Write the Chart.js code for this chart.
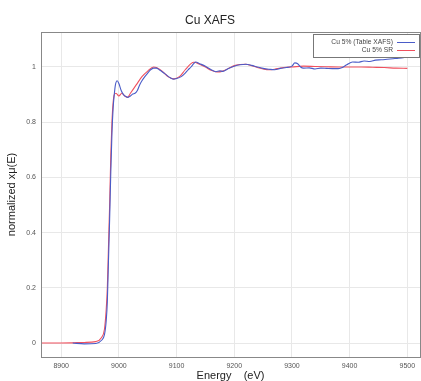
<!DOCTYPE html>
<html>
<head>
<meta charset="utf-8">
<script src="https://cdn.jsdelivr.net/npm/chart.js@4.4.0/dist/chart.umd.min.js"></script>
<style>
  body { margin: 0; background: #fff; }
  #wrap { width: 421px; height: 381px; }
</style>
</head>
<body>
<div id="wrap"><canvas id="xafsChart" width="421" height="381"></canvas></div>
<script>
// Cu 5% (Table XAFS)
const energyTable = [8920, 8940, 8960, 8970, 8975, 8978, 8980, 8982, 8984, 8986, 8988, 8990, 8992, 8994, 8997,
    9000, 9004, 9008, 9012, 9016, 9020, 9024, 9028, 9032, 9036, 9040, 9045, 9050, 9055, 9060, 9065, 9070, 9080,
    9090, 9095, 9100, 9108, 9115, 9120, 9125, 9130, 9133, 9140, 9150, 9160, 9168, 9175, 9180, 9190, 9200, 9210,
    9220, 9230, 9240, 9250, 9260, 9270, 9280, 9290, 9300, 9305, 9310, 9315, 9320, 9330, 9340, 9350, 9360, 9370,
    9380, 9385, 9395, 9405, 9415, 9425, 9435, 9445, 9455, 9465, 9475, 9485, 9495, 9500];
const muTable = [0.0, -0.003, -0.002, 0.01, 0.03, 0.08, 0.15, 0.3, 0.45, 0.62, 0.76, 0.85, 0.9, 0.935, 0.95,
    0.94, 0.915, 0.9, 0.893, 0.89, 0.895, 0.902, 0.905, 0.915, 0.935, 0.95, 0.965, 0.978, 0.99, 0.996, 0.996, 0.99, 0.975,
    0.96, 0.956, 0.958, 0.965, 0.978, 0.99, 1.0, 1.013, 1.018, 1.012, 1.003, 0.99, 0.983, 0.986, 0.984, 0.995, 1.003, 1.008,
    1.01, 1.006, 1.0, 0.995, 0.992, 0.99, 0.995, 0.998, 1.003, 1.015, 1.012, 1.0, 0.996, 0.997, 0.993, 0.996, 0.995, 0.994,
    0.994, 0.996, 1.008, 1.018, 1.017, 1.022, 1.02, 1.025, 1.026, 1.028, 1.03, 1.032, 1.035, 1.037];

// Cu 5% SR
const energySR = [8865, 8900, 8940, 8960, 8970, 8975, 8978, 8980, 8982, 8984, 8986, 8988, 8990, 8992, 8995,
    9000, 9005, 9010, 9015, 9020, 9030, 9040, 9050, 9060, 9065, 9075, 9085, 9095, 9105, 9115, 9125, 9130, 9140,
    9150, 9160, 9170, 9180, 9190, 9200, 9210, 9220, 9230, 9240, 9250, 9260, 9270, 9280, 9290, 9300, 9320, 9340,
    9360, 9380, 9400, 9420, 9440, 9460, 9480, 9500];
const muSR = [0.0, 0.0, 0.002, 0.005, 0.02, 0.05, 0.12, 0.2, 0.35, 0.5, 0.68, 0.8, 0.87, 0.9, 0.905,
    0.895, 0.905, 0.895, 0.89, 0.905, 0.935, 0.965, 0.985, 1.0, 0.998, 0.985, 0.965, 0.957, 0.965, 0.99, 1.012, 1.017, 1.01,
    1.0, 0.988, 0.982, 0.985, 0.995, 1.005, 1.009, 1.01, 1.005, 0.998, 0.993, 0.99, 0.992, 0.996, 0.999, 1.0, 1.003, 1.002,
    1.001, 1.0, 1.0, 1.0, 0.999, 0.998, 0.996, 0.995];

const xTicks = [8900, 9000, 9100, 9200, 9300, 9400, 9500];
const yTicks = [0, 0.2, 0.4, 0.6, 0.8, 1];

const toPoints = (xs, ys) => xs.map((x, i) => ({ x: x, y: ys[i] }));

// frame round the plot + boxed legend in the top right corner
const framePlugin = {
    id: "frame",
    afterDraw: (chart) => {
        const { ctx, chartArea } = chart;
        ctx.save();
        ctx.strokeStyle = "#888";
        ctx.lineWidth = 1;
        ctx.strokeRect(chartArea.left + 0.5, chartArea.top + 0.5,
            chartArea.right - chartArea.left, chartArea.bottom - chartArea.top);

        const boxL = 313, boxT = 34, boxW = 106, boxH = 23;
        ctx.fillStyle = "#fff";
        ctx.fillRect(boxL, boxT, boxW, boxH);
        ctx.strokeStyle = "#777";
        ctx.strokeRect(boxL + 0.5, boxT + 0.5, boxW, boxH);
        ctx.font = "6.7px 'Liberation Sans', Arial, sans-serif";
        ctx.textAlign = "right";
        ctx.textBaseline = "middle";
        chart.data.datasets.forEach((ds, i) => {
            const y = boxT + 8 + i * 8;
            ctx.fillStyle = "#444";
            ctx.fillText(ds.label, boxL + 80, y);
            ctx.strokeStyle = ds.borderColor;
            ctx.beginPath();
            ctx.moveTo(boxL + 84, y + 0.5);
            ctx.lineTo(boxL + 102, y + 0.5);
            ctx.stroke();
        });
        ctx.restore();
    },
};

const ctx = document.getElementById("xafsChart").getContext("2d");
const myChart = new Chart(ctx, {
    type: "scatter",
    data: {
        datasets: [
            {
                label: "Cu 5% (Table XAFS)",
                data: toPoints(energyTable, muTable),
                borderColor: "#4a5cc8",
                borderWidth: 1.1,
                showLine: true,
                pointRadius: 0,
                cubicInterpolationMode: "monotone",
            },
            {
                label: "Cu 5% SR",
                data: toPoints(energySR, muSR),
                borderColor: "#f0505e",
                borderWidth: 1.1,
                showLine: true,
                pointRadius: 0,
                cubicInterpolationMode: "monotone",
            },
        ],
    },
    options: {
        responsive: false,
        animation: false,
        layout: { padding: { top: 0, right: 1, bottom: 0, left: 0 } },
        plugins: {
            legend: { display: false },
            tooltip: { enabled: false },
            title: {
                display: true,
                text: "Cu XAFS",
                color: "#222",
                font: { size: 12, family: "'Liberation Sans', Arial, sans-serif", weight: "normal", lineHeight: 1.2 },
                padding: { top: 13, bottom: 4.6 },
            },
        },
        scales: {
            x: {
                type: "linear",
                min: 8865,
                max: 9522,
                afterBuildTicks: (scale) => {
                    scale.ticks = xTicks.map((v) => ({ value: v }));
                },
                afterFit: (scale) => {
                    scale.height = 24;
                },
                grid: { color: "#e8e8e8", drawTicks: false },
                border: { display: false },
                ticks: {
                    color: "#555",
                    padding: 5,
                    font: { size: 7, family: "'Liberation Sans', Arial, sans-serif" },
                    callback: (v) => String(v),
                },
                title: {
                    display: true,
                    text: "Energy    (eV)",
                    color: "#222",
                    padding: 0,
                    font: { size: 11, family: "'Liberation Sans', Arial, sans-serif", lineHeight: 1 },
                },
            },
            y: {
                min: -0.0507,
                max: 1.1268,
                afterBuildTicks: (scale) => {
                    scale.ticks = yTicks.map((v) => ({ value: v }));
                },
                afterFit: (scale) => {
                    scale.width = 41;
                },
                grid: { color: "#e8e8e8", drawTicks: false },
                border: { display: false },
                ticks: {
                    color: "#555",
                    padding: 5,
                    font: { size: 7, family: "'Liberation Sans', Arial, sans-serif" },
                    callback: (v) => String(v),
                },
                title: {
                    display: true,
                    text: "normalized xμ(E)",
                    color: "#222",
                    padding: 5,
                    font: { size: 11, family: "'Liberation Sans', Arial, sans-serif", lineHeight: 1.2 },
                },
            },
        },
    },
    plugins: [framePlugin],
});
</script>
</body>
</html>
